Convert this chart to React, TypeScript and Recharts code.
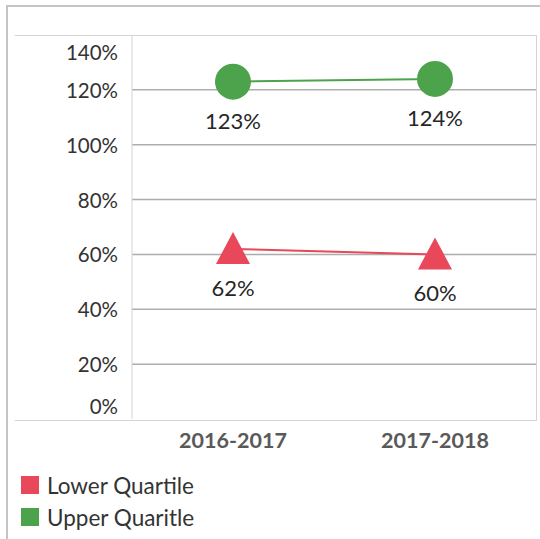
import { LineChart, Line, XAxis, YAxis, CartesianGrid, LabelList } from 'recharts';

const categories = ['2016-2017', '2017-2018'];
const lowerQuartile = [62, 60];
const upperQuartile = [123, 124];
const yTicks = [0, 20, 40, 60, 80, 100, 120, 140];
const gridValues = [20, 40, 60, 80, 100, 120];

const LOWER_COLOR = '#e8485a';
const UPPER_COLOR = '#4ca34c';
const FONT = 'Lato, "Noto Sans", sans-serif';

const data = categories.map((c, i) => ({
  period: c,
  lower: lowerQuartile[i],
  upper: upperQuartile[i],
}));

const legendItems = [
  { name: 'Lower Quartile', color: LOWER_COLOR },
  { name: 'Upper Quaritle', color: UPPER_COLOR },
];

function YTick(props: any) {
  const { x, y, payload } = props;
  let shift = 8;
  if (payload.value === 140) shift = 25;
  if (payload.value === 0) shift = -5;
  return (
    <text x={x} y={y + shift} textAnchor="end" fill="#333333" fontSize={20.5} fontFamily={FONT}>
      {payload.value}%
    </text>
  );
}

function XTick(props: any) {
  const { x, y, payload } = props;
  return (
    <text x={x} y={y + 29} textAnchor="middle" fill="#595959" fontSize={21.5} fontWeight={700} fontFamily={FONT}>
      {payload.value}
    </text>
  );
}

function ValueLabel(props: any) {
  const { x, y, value } = props;
  return (
    <text x={x} y={y + 47} textAnchor="middle" fill="#262626" fontSize={22} fontFamily={FONT}>
      {value}%
    </text>
  );
}

function CircleDot(props: any) {
  const { cx, cy, index } = props;
  return <circle key={`c${index}`} cx={cx} cy={cy} r={18} fill={UPPER_COLOR} />;
}

function TriangleDot(props: any) {
  const { cx, cy, index } = props;
  const d = `M${cx},${cy - 17} L${cx + 17},${cy + 15} L${cx - 17},${cy + 15} Z`;
  return <path key={`t${index}`} d={d} fill={LOWER_COLOR} />;
}

export default function App() {
  return (
    <div style={{ position: 'absolute', left: 0, top: 0, width: 540, height: 539, background: '#fff' }}>
      {/* outer frame */}
      <div style={{ position: 'absolute', left: 6, top: 5, width: 540, height: 533, borderLeft: '2px solid #c4c4c4', borderTop: '2px solid #c4c4c4' }} />
      {/* inner plot frame */}
      <div style={{ position: 'absolute', left: 15, top: 35, width: 521, height: 384, borderTop: '1px solid #d4d4d4', borderBottom: '1px solid #d4d4d4', borderRight: '1px solid #d4d4d4' }} />
      <LineChart
        width={540}
        height={539}
        data={data}
        margin={{ top: 35, right: 4, bottom: 0, left: 0 }}
        style={{ position: 'absolute', left: 0, top: 0 }}
      >
        <CartesianGrid vertical={false} horizontalValues={gridValues} stroke="#adadad" strokeWidth={1.5} />
        <XAxis
          dataKey="period"
          axisLine={false}
          tickLine={false}
          tickSize={0}
          tickMargin={0}
          height={120}
          padding={{ left: 101, right: 101 }}
          tick={<XTick />}
        />
        <YAxis
          domain={[0, 140]}
          ticks={yTicks}
          interval={0}
          width={132}
          axisLine={{ stroke: '#d4d4d4' }}
          tickLine={false}
          tickSize={0}
          tickMargin={14}
          tick={<YTick />}
        />
        <Line
          dataKey="lower"
          name="Lower Quartile"
          stroke={LOWER_COLOR}
          strokeWidth={2}
          dot={<TriangleDot />}
          activeDot={false}
          isAnimationActive={false}
        >
          <LabelList dataKey="lower" content={<ValueLabel />} />
        </Line>
        <Line
          dataKey="upper"
          name="Upper Quaritle"
          stroke={UPPER_COLOR}
          strokeWidth={2}
          dot={<CircleDot />}
          activeDot={false}
          isAnimationActive={false}
        >
          <LabelList dataKey="upper" content={<ValueLabel />} />
        </Line>
      </LineChart>
      <div style={{ position: 'absolute', left: 21, top: 469, fontFamily: FONT, fontSize: 22.5, color: '#333333' }}>
        {legendItems.map((item) => (
          <div key={item.name} style={{ display: 'flex', alignItems: 'center', height: 32 }}>
            <span style={{ display: 'inline-block', width: 18, height: 18, background: item.color, marginRight: 8 }} />
            <span>{item.name}</span>
          </div>
        ))}
      </div>
    </div>
  );
}
